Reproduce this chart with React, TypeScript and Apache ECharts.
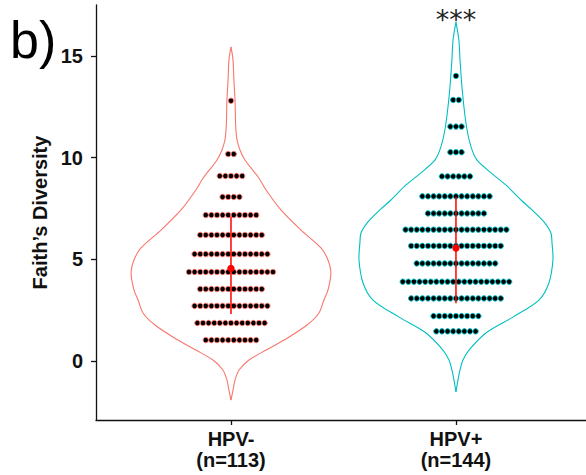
import React, { useEffect, useRef } from "react";
import * as echarts from "echarts";

// ---- data ----
const categories = ["HPV-", "HPV+"];
const groupSizes = [113, 144];
const groupX = [1, 2];
const groupColors = ["#F8766D", "#00BFC4"];

// dot-plot rows (bin centre value, number of dots)
const negRowValues = [12.8, 10.18, 9.1, 8.07, 7.18, 6.2, 5.26, 4.38, 3.54, 2.71, 1.87, 1.03];
const negRowCounts = [1, 2, 5, 4, 10, 12, 14, 16, 12, 14, 13, 10];
const posRowValues = [14.02, 12.84, 11.53, 10.27, 9.08, 8.1, 7.26, 6.46, 5.66, 4.8, 3.9, 3.08, 2.21, 1.46];
const posRowCounts = [1, 2, 3, 3, 6, 13, 11, 19, 17, 15, 20, 17, 9, 8];

// violin outline (value, half width in category units)
const negViolinY = [15.45, 14.81, 13.82, 12.84, 11.85, 11.36, 10.87, 10.38, 9.89, 9.0, 8.41, 7.43, 6.44, 5.56, 4.97, 4.33, 3.49, 3.0, 2.36, 1.77, 1.03, 0.54, 0.05, -0.44, -0.93, -1.43, -1.92];
const negViolinW = [0, 0.009, 0.013, 0.018, 0.02, 0.022, 0.027, 0.04, 0.062, 0.124, 0.156, 0.222, 0.311, 0.4, 0.431, 0.444, 0.431, 0.413, 0.391, 0.338, 0.236, 0.156, 0.08, 0.036, 0.018, 0.009, 0];
const posViolinY = [16.67, 15.79, 14.81, 13.18, 11.51, 10.53, 9.89, 9.25, 8.66, 7.92, 7.43, 6.84, 6.3, 5.8, 4.97, 3.84, 3.0, 2.16, 1.38, 0.54, 0.05, -0.44, -0.93, -1.52];
const posViolinW = [0, 0.013, 0.018, 0.029, 0.047, 0.067, 0.093, 0.156, 0.222, 0.289, 0.338, 0.391, 0.422, 0.427, 0.431, 0.413, 0.369, 0.253, 0.133, 0.058, 0.031, 0.018, 0.009, 0];

// mean and spread line
const means = [4.56, 5.55];
const spreadLow = [2.31, 2.84];
const spreadHigh = [7.1, 8.08];

const yTicks = [0, 5, 10, 15];

const FONT = '"Liberation Sans Narrow", "Liberation Sans", Arial, sans-serif';

function buildOption() {
  const violins = [
    { y: negViolinY, w: negViolinW },
    { y: posViolinY, w: posViolinW },
  ];
  const dotData: number[][] = [];
  negRowValues.forEach((v, i) => dotData.push([groupX[0], v, negRowCounts[i], 0]));
  posRowValues.forEach((v, i) => dotData.push([groupX[1], v, posRowCounts[i], 1]));

  const axisLineStyle = { color: "#111", width: 1.3 };
  const labelStyle = { fontFamily: FONT, fontWeight: "bold" as const, fontSize: 20, color: "#111" };

  return {
    animation: false,
    backgroundColor: "#fff",
    grid: { left: 96, top: 5, right: 0, bottom: 55, containLabel: false },
    xAxis: {
      type: "value",
      min: 0.4,
      max: 2.578,
      splitLine: { show: false },
      axisLine: { show: true, onZero: false, lineStyle: axisLineStyle },
      axisTick: { show: true, customValues: groupX, length: 5, lineStyle: axisLineStyle },
      axisLabel: {
        customValues: groupX,
        margin: 8,
        lineHeight: 21,
        ...labelStyle,
        formatter: (v: number) => {
          const i = groupX.indexOf(Math.round(v));
          return i >= 0 ? `${categories[i]}\n(n=${groupSizes[i]})` : "";
        },
      },
    },
    yAxis: {
      type: "value",
      min: -2.9,
      max: 17.51,
      splitLine: { show: false },
      axisLine: { show: true, onZero: false, lineStyle: axisLineStyle },
      axisTick: { show: true, customValues: yTicks, length: 5, lineStyle: axisLineStyle },
      axisLabel: { customValues: yTicks, margin: 13, ...labelStyle },
      name: "Faith’s Diversity",
      nameLocation: "middle",
      nameGap: 46,
      nameTextStyle: { ...labelStyle, fontSize: 20 },
    },
    graphic: [
      {
        type: "text",
        left: 10,
        top: 14,
        style: { text: "b)", fontFamily: '"Liberation Sans", Arial, sans-serif', fontSize: 52, fill: "#000" },
      },
      {
        type: "text",
        x: 456,
        y: 19,
        style: {
          text: "***",
          fontFamily: '"DejaVu Sans", sans-serif',
          fontSize: 27,
          fill: "#222",
          align: "center",
          verticalAlign: "middle",
        },
      },
    ],
    series: [
      {
        type: "custom",
        name: "violin",
        coordinateSystem: "cartesian2d",
        encode: { x: 0, y: 1 },
        data: groupX.map((x, i) => [x, 0, i]),
        silent: true,
        renderItem: (params: any, api: any) => {
          const gi = api.value(2);
          const x = api.value(0);
          const v = violins[gi];
          const right = v.y.map((yy: number, k: number) => api.coord([x + v.w[k], yy]));
          const left = v.y.map((yy: number, k: number) => api.coord([x - v.w[k], yy])).reverse();
          return {
            type: "group",
            children: [
              {
                type: "polyline",
                shape: { points: right, smooth: 0.3 },
                style: { fill: "none", stroke: groupColors[gi], lineWidth: 1.1 },
              },
              {
                type: "polyline",
                shape: { points: left, smooth: 0.3 },
                style: { fill: "none", stroke: groupColors[gi], lineWidth: 1.1 },
              },
            ],
          };
        },
        z: 1,
      },
      {
        type: "custom",
        name: "dots",
        coordinateSystem: "cartesian2d",
        encode: { x: 0, y: 1 },
        data: dotData,
        silent: true,
        renderItem: (params: any, api: any) => {
          const x = api.value(0);
          const y = api.value(1);
          const n = api.value(2);
          const gi = api.value(3);
          const c = api.coord([x, y]);
          const spacing = 5.6;
          const children = [];
          for (let k = 0; k < n; k++) {
            children.push({
              type: "circle",
              shape: { cx: c[0] + (k - (n - 1) / 2) * spacing, cy: c[1], r: 2.7 },
              style: { fill: "#000", stroke: groupColors[gi], lineWidth: 1 },
            });
          }
          return { type: "group", children };
        },
        z: 2,
      },
      {
        type: "custom",
        name: "mean",
        coordinateSystem: "cartesian2d",
        encode: { x: 0, y: 1 },
        data: groupX.map((x, i) => [x, means[i], spreadLow[i], spreadHigh[i]]),
        silent: true,
        renderItem: (params: any, api: any) => {
          const x = api.value(0);
          const m = api.coord([x, api.value(1)]);
          const lo = api.coord([x, api.value(2)]);
          const hi = api.coord([x, api.value(3)]);
          return {
            type: "group",
            children: [
              {
                type: "line",
                shape: { x1: lo[0], y1: lo[1], x2: hi[0], y2: hi[1] },
                style: { stroke: "#FF0000", lineWidth: 1.5 },
              },
              {
                type: "circle",
                shape: { cx: m[0], cy: m[1], r: 3.6 },
                style: { fill: "#FF0000" },
              },
            ],
          };
        },
        z: 3,
      },
    ],
  };
}

export default function App() {
  const ref = useRef<HTMLDivElement>(null);
  useEffect(() => {
    if (!ref.current) return;
    const chart = echarts.init(ref.current, null, { renderer: "svg" });
    chart.setOption(buildOption() as any);
    return () => chart.dispose();
  }, []);
  return (
    <div
      ref={ref}
      style={{ position: "fixed", left: 0, top: 0, width: 586, height: 475, background: "#fff" }}
    />
  );
}
